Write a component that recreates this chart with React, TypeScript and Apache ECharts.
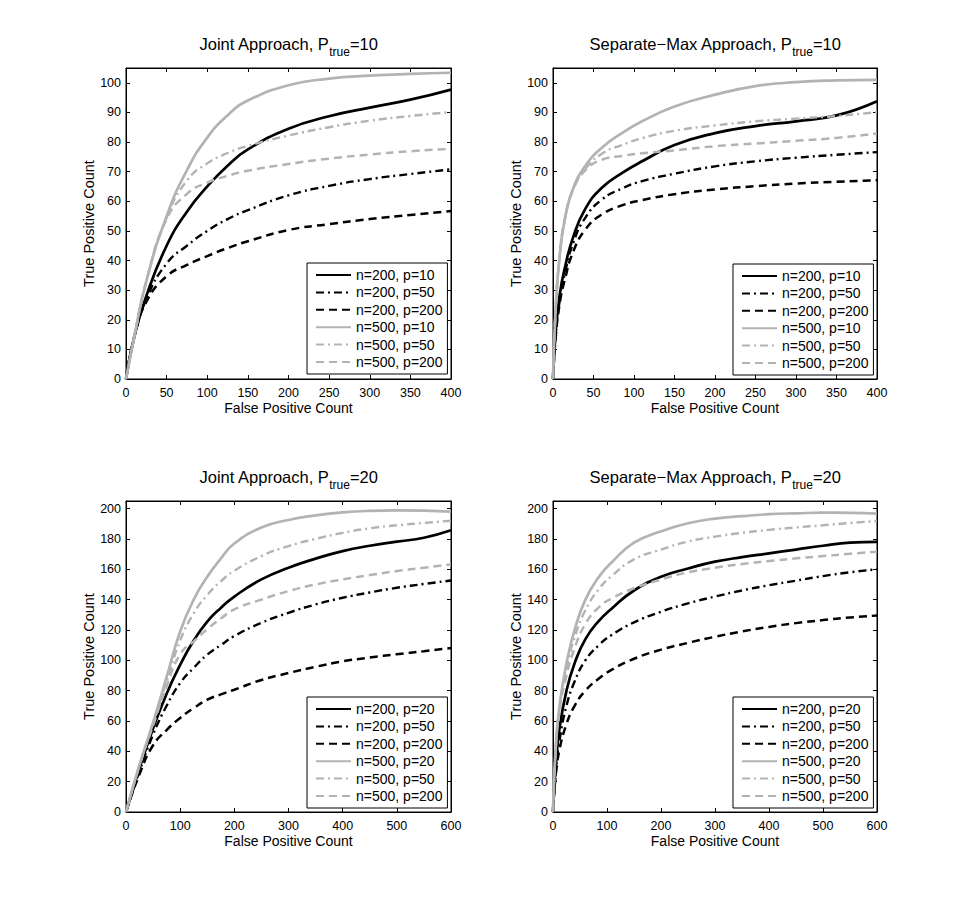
import React, { useEffect, useRef } from "react";
import * as echarts from "echarts";

// ---------- data ----------
const titlesMain = ["Joint Approach, P", "Separate\u2212Max Approach, P", "Joint Approach, P", "Separate\u2212Max Approach, P"];
const titlesSuffix = ["=10", "=10", "=20", "=20"];
const namesTop = ["n=200, p=10", "n=200, p=50", "n=200, p=200", "n=500, p=10", "n=500, p=50", "n=500, p=200"];
const namesBottom = ["n=200, p=20", "n=200, p=50", "n=200, p=200", "n=500, p=20", "n=500, p=50", "n=500, p=200"];

// Plot 1: Joint, P_true=10
const x1 = [0, 10, 25, 50, 75, 100, 125, 150, 200, 250, 300, 350, 400];
const p1_n200_p10 = [0, 14, 28, 45, 56.5, 65, 72, 77.5, 84.5, 88.7, 91.6, 94.3, 97.7];
const p1_n200_p50 = [0, 14, 27, 39, 45, 50, 54, 57, 62, 65.2, 67.5, 69.2, 70.8];
const p1_n200_p200 = [0, 14, 26, 34.7, 38.5, 41.5, 44.2, 46.5, 50.3, 52.3, 54, 55.4, 56.7];
const p1_n500_p10 = [0, 14, 33, 55, 70.5, 81.5, 89, 94, 99.2, 101.4, 102.4, 103, 103.4];
const p1_n500_p50 = [0, 14, 33, 54.5, 67, 72.8, 76.3, 78.7, 82.2, 85, 87.2, 88.8, 90.1];
const p1_n500_p200 = [0, 14, 33, 54, 62.5, 66.3, 68.6, 70.3, 72.6, 74.4, 75.8, 76.9, 77.7];

// Plot 2: Separate-Max, P_true=10
const x2 = [0, 3, 8, 15, 25, 40, 60, 85, 110, 150, 200, 250, 300, 350, 400];
const p2_n200_p10 = [0, 15, 28, 38, 48, 57.5, 64.5, 69.5, 73.5, 79, 83, 85.4, 87, 89, 93.8];
const p2_n200_p50 = [0, 14, 26, 36, 46, 54.5, 60.5, 64.3, 66.8, 69.3, 71.8, 73.5, 74.7, 75.7, 76.6];
const p2_n200_p200 = [0, 13, 25, 34, 43, 50.5, 55.5, 58.6, 60.4, 62.4, 64, 65.1, 66, 66.6, 67.1];
const p2_n500_p10 = [0, 22, 41, 54.5, 64.5, 72, 78, 83, 87, 92, 96, 98.9, 100.2, 100.8, 101];
const p2_n500_p50 = [0, 22, 41, 54.5, 64.2, 71, 76, 79, 81.3, 83.8, 85.6, 87, 87.9, 88.8, 90.1];
const p2_n500_p200 = [0, 22, 41, 54.5, 64, 70.5, 74, 75.3, 76.2, 77.2, 78.6, 79.5, 80.4, 81.4, 82.9];

// Plot 3: Joint, P_true=20
const x3 = [0, 25, 50, 75, 100, 125, 150, 175, 200, 250, 300, 350, 400, 450, 500, 550, 600];
const p3_n200_p20 = [0, 29, 55, 78, 97, 113, 125.5, 134.5, 142, 153.3, 161, 167, 172, 175.5, 178.2, 180.8, 185.7];
const p3_n200_p50 = [0, 27, 51, 70, 85, 95, 103.7, 110, 116, 124.7, 131.3, 136.8, 141.2, 144.7, 147.8, 150.3, 152.6];
const p3_n200_p200 = [0, 25, 44, 54, 62, 68.5, 74, 77.5, 80.6, 87, 91.6, 95.7, 99.3, 101.8, 104, 106, 108.1];
const p3_n500_p20 = [0, 31, 59, 89, 119, 140, 155, 167, 177, 187.5, 192.5, 195.5, 197.5, 198.5, 198.8, 198.6, 198];
const p3_n500_p50 = [0, 31, 58, 86, 113, 131, 143, 152, 159, 168.7, 175.3, 180, 184, 187, 189, 190.5, 192];
const p3_n500_p200 = [0, 31, 57, 83, 104, 112.5, 120.5, 127.5, 133.5, 140, 145.6, 150, 153.3, 156.2, 158.8, 161, 163.2];

// Plot 4: Separate-Max, P_true=20
const x4 = [0, 5, 12, 25, 40, 60, 85, 110, 150, 200, 250, 300, 350, 400, 450, 500, 550, 600];
const p4_n200_p20 = [0, 30, 55, 80, 98, 114, 126, 134.5, 146, 155, 160.5, 165, 168, 170.5, 173, 175.5, 177.5, 178];
const p4_n200_p50 = [0, 26, 47, 70, 86, 100, 110, 117, 125, 132, 137.5, 142, 146, 149.5, 152.5, 155.5, 158, 160];
const p4_n200_p200 = [0, 24, 41, 58, 70, 80, 88, 94, 101, 107, 111.5, 115.5, 119, 122, 124.5, 126.5, 128.2, 129.5];
const p4_n500_p20 = [0, 42, 70, 98, 120, 140, 155, 165, 177.5, 185, 190.3, 193.4, 195, 196.3, 196.9, 197.3, 197.2, 196.7];
const p4_n500_p50 = [0, 42, 69, 95, 115, 133, 147, 156, 166.5, 173, 178.3, 181.5, 184, 186, 187.6, 189, 190.5, 191.8];
const p4_n500_p200 = [0, 41, 67, 90, 108, 124, 135, 141, 147.5, 153.3, 158, 161, 163.5, 165.4, 167.2, 168.7, 170.2, 171.6];

const xMax = [400, 400, 600, 600];
const xInterval = [50, 50, 100, 100];
const yMax = [105, 105, 205, 205];
const yInterval = [10, 10, 20, 20];

const plotX = [x1, x2, x3, x4];
const plotY = [
  [p1_n200_p10, p1_n200_p50, p1_n200_p200, p1_n500_p10, p1_n500_p50, p1_n500_p200],
  [p2_n200_p10, p2_n200_p50, p2_n200_p200, p2_n500_p10, p2_n500_p50, p2_n500_p200],
  [p3_n200_p20, p3_n200_p50, p3_n200_p200, p3_n500_p20, p3_n500_p50, p3_n500_p200],
  [p4_n200_p20, p4_n200_p50, p4_n200_p200, p4_n500_p20, p4_n500_p50, p4_n500_p200],
];
const plotNames = [namesTop, namesTop, namesBottom, namesBottom];

// ---------- layout / style ----------
const FONT = "'Liberation Sans', Arial, Helvetica, sans-serif";
const grids = [
  { left: 126, top: 68, width: 325, height: 311 },
  { left: 553, top: 68, width: 324, height: 311 },
  { left: 126, top: 501, width: 325, height: 311 },
  { left: 553, top: 501, width: 324, height: 311 },
];
const legendPos = [
  { left: 307, top: 263 },
  { left: 733, top: 264 },
  { left: 307, top: 697 },
  { left: 733, top: 697 },
];
const titleTop = [35, 35, 468, 468];
const BLACK = "#000000";
const GRAY = "#b3b3b3";
const DASH = [8, 5];
const DASHDOT = [8, 4, 2, 4];
const lineStyles = [
  { color: BLACK, type: "solid", width: 2.7 },
  { color: BLACK, type: DASHDOT, width: 2.4 },
  { color: BLACK, type: DASH, width: 2.5 },
  { color: GRAY, type: "solid", width: 2.7 },
  { color: GRAY, type: DASHDOT, width: 2.4 },
  { color: GRAY, type: DASH, width: 2.5 },
];

function buildOption() {
  const xAxis: any[] = [];
  const yAxis: any[] = [];
  const series: any[] = [];
  const legend: any[] = [];
  const graphic: any[] = [];
  const tick = { show: true, inside: true, length: 4, lineStyle: { color: BLACK, width: 1 } };
  const line = { show: true, onZero: false, lineStyle: { color: BLACK, width: 1 } };
  const label = { color: BLACK, fontSize: 12.5, fontFamily: FONT };
  for (let i = 0; i < 4; i++) {
    xAxis.push({
      gridIndex: i, type: "value", position: "bottom", min: 0, max: xMax[i], interval: xInterval[i],
      axisLine: line, axisTick: tick, splitLine: { show: false },
      axisLabel: { ...label, margin: 7 },
      name: "False Positive Count", nameLocation: "middle", nameGap: 22,
      nameTextStyle: { color: BLACK, fontSize: 14, fontFamily: FONT },
    });
    xAxis.push({
      gridIndex: i, type: "value", position: "top", min: 0, max: xMax[i], interval: xInterval[i],
      axisLine: line, axisTick: tick, splitLine: { show: false }, axisLabel: { show: false },
    });
    yAxis.push({
      gridIndex: i, type: "value", position: "left", min: 0, max: yMax[i], interval: yInterval[i],
      axisLine: line, axisTick: tick, splitLine: { show: false },
      axisLabel: { ...label, margin: 5, showMaxLabel: false },
      name: "True Positive Count", nameLocation: "middle", nameGap: 30,
      nameTextStyle: { color: BLACK, fontSize: 14.5, fontFamily: FONT },
    });
    yAxis.push({
      gridIndex: i, type: "value", position: "right", min: 0, max: yMax[i], interval: yInterval[i],
      axisLine: line, axisTick: tick, splitLine: { show: false }, axisLabel: { show: false },
    });
    const xs = plotX[i];
    for (let s = 0; s < 6; s++) {
      const ys = plotY[i][s];
      series.push({
        type: "line",
        name: plotNames[i][s],
        xAxisIndex: 2 * i,
        yAxisIndex: 2 * i,
        data: xs.map((x, k) => [x, ys[k]]),
        symbol: "none",
        smooth: 0.5,
        lineStyle: lineStyles[s],
        itemStyle: { color: lineStyles[s].color },
        emphasis: { disabled: true },
        z: 2 + s,
      });
    }
    legend.push({
      data: plotNames[i],
      left: legendPos[i].left,
      top: legendPos[i].top,
      orient: "vertical",
      backgroundColor: "#ffffff",
      borderColor: BLACK,
      borderWidth: 1,
      borderRadius: 0,
      padding: [5, 5, 5, 8],
      itemWidth: 35,
      itemHeight: 14,
      itemGap: 3.4,
      selectedMode: false,
      itemStyle: { opacity: 0, borderWidth: 0 },
      textStyle: { color: BLACK, fontSize: 14, fontFamily: FONT },
      z: 10,
    });
    graphic.push({
      type: "text",
      x: grids[i].left + grids[i].width / 2,
      y: titleTop[i],
      style: {
        text: `{a|${titlesMain[i]}}{s|true}{a|${titlesSuffix[i]}}`,
        align: "center",
        verticalAlign: "top",
        fill: BLACK,
        rich: {
          a: { fontSize: 16.5, fontFamily: FONT, lineHeight: 20, verticalAlign: "top", fill: BLACK },
          s: { fontSize: 12, fontFamily: FONT, lineHeight: 34, fill: BLACK },
        },
      },
    });
  }
  return {
    animation: false,
    backgroundColor: "#ffffff",
    textStyle: { fontFamily: FONT },
    grid: grids.map((g) => ({ ...g, show: true, borderColor: BLACK, borderWidth: 1, backgroundColor: "transparent", containLabel: false })),
    xAxis,
    yAxis,
    legend,
    series,
    graphic,
  };
}

export default function App() {
  const ref = useRef<HTMLDivElement>(null);
  useEffect(() => {
    document.body.style.margin = "0";
    const chart = echarts.init(ref.current!, null, { renderer: "svg" });
    chart.setOption(buildOption() as any);
    return () => chart.dispose();
  }, []);
  return (
    <div
      ref={ref}
      style={{ position: "absolute", left: 0, top: 0, width: 969, height: 913, background: "#fff" }}
    />
  );
}
